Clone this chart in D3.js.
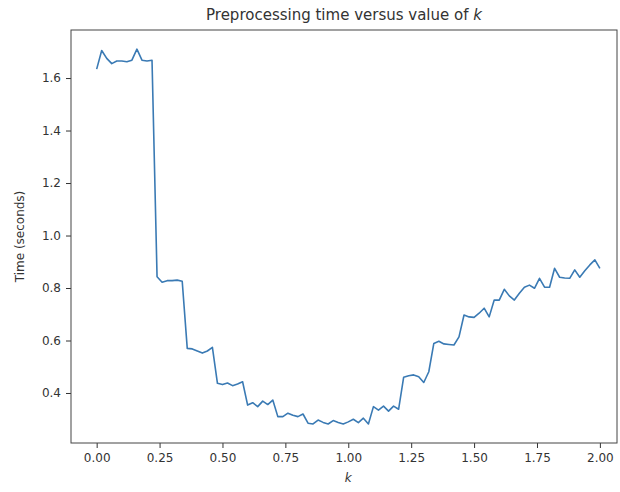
<!DOCTYPE html>
<html>
<head>
<meta charset="utf-8">
<script src="https://cdn.jsdelivr.net/npm/d3@7"></script>
<style>
  body { margin: 0; background: #fff; }
  svg { display: block; font-family: "DejaVu Sans", sans-serif; }
</style>
</head>
<body>
<svg id="chart" width="620" height="492"></svg>
<script>
// k values, step 0.02 from 0 to 2
const kValues = d3.range(0, 101).map((i) => +(i * 0.02).toFixed(2));

// preprocessing time (seconds)
const timeValues = [
  1.634, 1.705, 1.675, 1.655, 1.665, 1.665, 1.662, 1.668, 1.710, 1.668,
  1.665, 1.668, 0.843, 0.822, 0.828, 0.828, 0.830, 0.826, 0.570, 0.568,
  0.560, 0.552, 0.560, 0.574, 0.437, 0.432, 0.438, 0.428, 0.434, 0.443,
  0.354, 0.363, 0.348, 0.369, 0.356, 0.373, 0.310, 0.310, 0.323, 0.315,
  0.310, 0.320, 0.285, 0.282, 0.297, 0.288, 0.282, 0.295, 0.288, 0.282,
  0.290, 0.300, 0.287, 0.304, 0.282, 0.348, 0.335, 0.350, 0.331, 0.350,
  0.338, 0.460, 0.466, 0.469, 0.462, 0.440, 0.481, 0.589, 0.597, 0.587,
  0.585, 0.583, 0.614, 0.697, 0.690, 0.688, 0.704, 0.723, 0.690, 0.754,
  0.754, 0.795, 0.770, 0.754, 0.780, 0.803, 0.811, 0.799, 0.837, 0.803,
  0.803, 0.875, 0.841, 0.838, 0.837, 0.869, 0.841, 0.866, 0.888, 0.907,
  0.875
];

const xTicks = [0, 0.25, 0.5, 0.75, 1.0, 1.25, 1.5, 1.75, 2.0];
const yTicks = [0.4, 0.6, 0.8, 1.0, 1.2, 1.4, 1.6];

const data = kValues.map((k, i) => ({ k: k, t: timeValues[i] }));

const svg = d3.select("#chart");
const margin = { left: 71, right: 617, top: 30, bottom: 443 };

const x = d3.scaleLinear().domain([-0.102, 2.068]).range([margin.left, margin.right]);
const y = d3.scaleLinear().domain([0.2095, 1.783]).range([margin.bottom, margin.top]);

// x axis
const xAxis = svg
  .append("g")
  .attr("transform", `translate(0,${margin.bottom})`)
  .call(
    d3.axisBottom(x)
      .tickValues(xTicks)
      .tickFormat(d3.format(".2f"))
      .tickSize(5)
      .tickPadding(5)
  );

// y axis
const yAxis = svg
  .append("g")
  .attr("transform", `translate(${margin.left},0)`)
  .call(
    d3.axisLeft(y)
      .tickValues(yTicks)
      .tickFormat(d3.format(".1f"))
      .tickSize(5)
      .tickPadding(5)
  );

[xAxis, yAxis].forEach((g) => {
  g.select(".domain").remove();
  g.selectAll("line").attr("stroke", "#333").attr("stroke-width", 1);
  g.selectAll("text")
    .attr("fill", "#333")
    .style("font-size", "12px")
    .style("font-family", "DejaVu Sans, sans-serif");
});

// the line
const line = d3
  .line()
  .x((d) => x(d.k))
  .y((d) => y(d.t));

svg
  .append("path")
  .datum(data)
  .attr("fill", "none")
  .attr("stroke", "#3a7ab4")
  .attr("stroke-width", 1.6)
  .attr("stroke-linejoin", "round")
  .attr("d", line);

// frame
svg
  .append("rect")
  .attr("x", margin.left)
  .attr("y", margin.top)
  .attr("width", margin.right - margin.left)
  .attr("height", margin.bottom - margin.top)
  .attr("fill", "none")
  .attr("stroke", "#444")
  .attr("stroke-width", 1);

// title
const title = svg
  .append("text")
  .attr("x", (margin.left + margin.right) / 2)
  .attr("y", 20)
  .attr("text-anchor", "middle")
  .attr("fill", "#333")
  .style("font-size", "15px");
title.append("tspan").text("Preprocessing time versus value of ");
title.append("tspan").style("font-style", "italic").text("k");

// x label
svg
  .append("text")
  .attr("x", x(1.0))
  .attr("y", 482)
  .attr("text-anchor", "middle")
  .attr("fill", "#333")
  .style("font-size", "12px")
  .style("font-style", "italic")
  .text("k");

// y label
svg
  .append("text")
  .attr("transform", `translate(24,${(margin.top + margin.bottom) / 2}) rotate(-90)`)
  .attr("text-anchor", "middle")
  .attr("fill", "#333")
  .style("font-size", "12px")
  .text("Time (seconds)");
</script>
</body>
</html>
